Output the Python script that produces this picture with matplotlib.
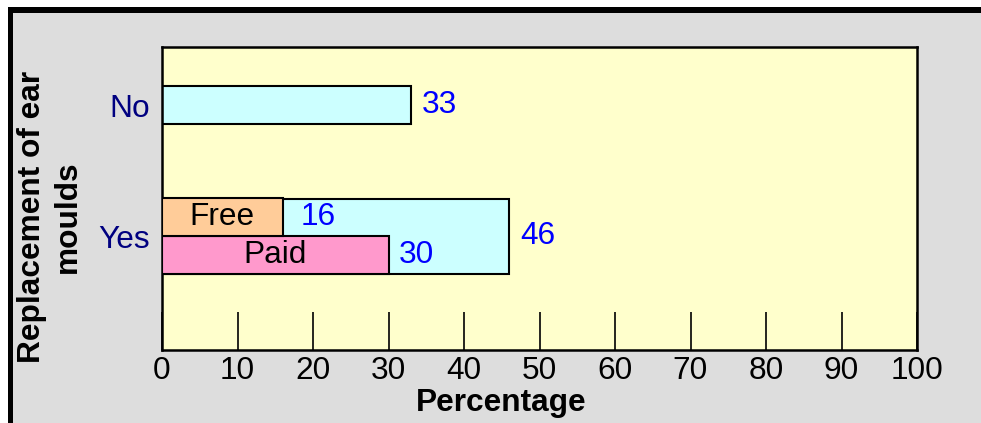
import matplotlib
matplotlib.use("Agg")
import matplotlib.pyplot as plt

# Data
categories = ["Yes", "No"]
total_values = [46, 33]
sub_labels = ["Paid", "Free"]
sub_values = [30, 16]
x_ticks = [0, 10, 20, 30, 40, 50, 60, 70, 80, 90, 100]

plt.rcParams['font.family'] = ['Liberation Sans', 'DejaVu Sans']

W, H = 981, 423
fig = plt.figure(figsize=(W / 100, H / 100), dpi=100)
fig.patch.set_facecolor("#DDDDDD")

# white outer margin on left/top plus thick black border lines
bg = fig.add_axes([0, 0, 1, 1], zorder=-10)
bg.set_xlim(0, W)
bg.set_ylim(0, H)
bg.axis("off")
bg.fill_between([0, 8], 0, H, color="white", lw=0)
bg.fill_between([0, W], H - 7, H, color="white", lw=0)
bg.fill_between([8, 13], 0, H - 7, color="black", lw=0)
bg.fill_between([8, W], H - 13, H - 7, color="black", lw=0)

L, R, T, B = 162, 917, 47, 350
ax = fig.add_axes([L / W, (H - B) / H, (R - L) / W, (B - T) / H])
ax.set_facecolor("#FFFFCC")

fs = 22.8
cyan = "#CCFFFF"
sub_colors = ["#FF99CC", "#FFCC99"]

cat_pos = [1.5, 3.23]
cat_height = [1.0, 0.5]

for p, v, h in zip(cat_pos, total_values, cat_height):
    ax.barh(p, v, height=h, color=cyan, edgecolor="black", linewidth=1.5, zorder=2)
    ax.annotate(str(v), (v, p), xytext=(8, 0), textcoords="offset points",
                ha="left", va="center", color="#0000FF", fontsize=fs, zorder=5)

sub_pos = [cat_pos[0] - 0.25, cat_pos[0] + 0.25]
sub_offsets = [7.5, 12.5]
for p, v, lab, c, off in zip(sub_pos, sub_values, sub_labels, sub_colors, sub_offsets):
    ax.barh(p, v, height=0.5, color=c, edgecolor="black", linewidth=1.5, zorder=3)
    ax.text(v / 2, p, lab, ha="center", va="center", fontsize=fs, color="black", zorder=5)
    ax.annotate(str(v), (v, p), xytext=(off, 0), textcoords="offset points",
                ha="left", va="center", color="#0000FF", fontsize=fs, zorder=5)

ax.set_xlim(0, 100)
ax.set_ylim(0, 4)
ax.set_xticks(x_ticks)
ax.set_xticklabels([str(t) for t in x_ticks], fontsize=fs)
ax.tick_params(axis="x", direction="in", length=27.5, width=1.2, pad=4, colors="black")
ax.set_yticks(cat_pos)
ax.set_yticklabels(categories, fontsize=fs, color="#000080")
ax.tick_params(axis="y", length=0, pad=9)
for s in ax.spines.values():
    s.set_linewidth(1.8)
    s.set_color("black")

fig.text(501 / W, 1 - 403 / H, "Percentage", ha="center", va="center",
         fontsize=fs, fontweight="bold")
fig.text(50 / W, 1 - 217 / H, "Replacement of ear\nmoulds", ha="center", va="center",
         rotation=90, fontsize=fs, fontweight="bold", multialignment="center",
         linespacing=1.22)

fig.savefig("out.png", dpi=100)
